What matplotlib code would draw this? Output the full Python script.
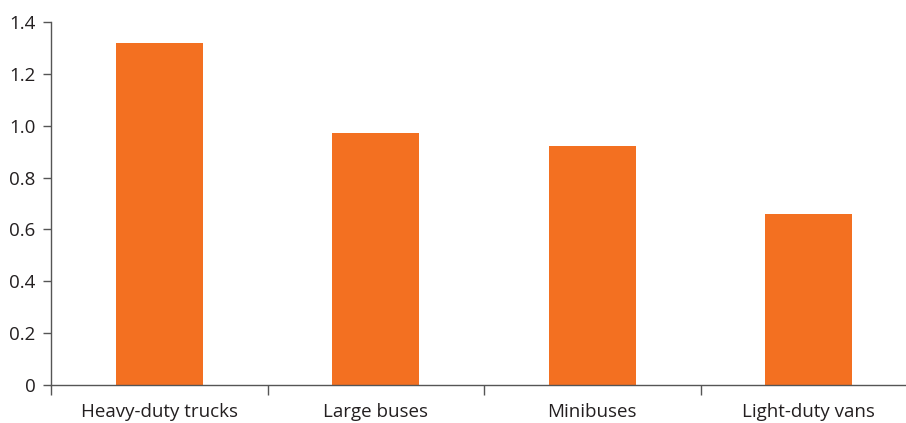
import matplotlib
matplotlib.use("Agg")
import matplotlib.pyplot as plt

categories = ["Heavy-duty trucks", "Large buses", "Minibuses", "Light-duty vans"]
values = [1.32, 0.97, 0.92, 0.66]
yticks = [0, 0.2, 0.4, 0.6, 0.8, 1.0, 1.2, 1.4]
ytick_labels = ["0", "0.2", "0.4", "0.6", "0.8", "1.0", "1.2", "1.4"]

plt.rcParams['font.family'] = ['Open Sans', 'DejaVu Sans']

fig = plt.figure(figsize=(9.06, 4.23), dpi=100)
W, H = 906, 423
left, right, top, bottom = 51, 917, 22, 385
ax = fig.add_axes([left / W, (H - bottom) / H, (right - left) / W, (bottom - top) / H])

x = range(len(categories))
ax.bar(x, values, width=0.4, color="#F37021")

ax.set_xlim(-0.5, len(categories) - 0.5)
ax.set_ylim(0, 1.4)
ax.set_yticks(yticks)
ax.set_yticklabels(ytick_labels)

ax.set_xticks(list(x))
ax.set_xticklabels(categories)
ax.set_xticks([i - 0.5 for i in range(len(categories) + 1)], minor=True)
ax.tick_params(axis="x", which="major", length=0, pad=13, labelsize=13.5, colors="#231F20")
ax.tick_params(axis="x", which="minor", length=7, width=1, direction="out", color="#555555")
ax.tick_params(axis="y", length=6, width=1, direction="out", color="#555555", labelsize=13.5, labelcolor="#231F20", pad=5)

for s in ["top", "right"]:
    ax.spines[s].set_visible(False)
for s in ["left", "bottom"]:
    ax.spines[s].set_color("#555555")
    ax.spines[s].set_linewidth(1)

fig.savefig("out.png", dpi=100)
